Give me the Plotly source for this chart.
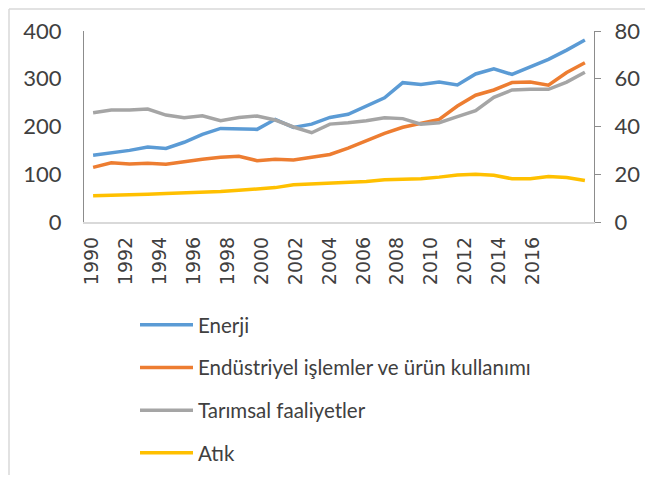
import plotly.graph_objects as go

years = list(range(1990, 2018))
enerji = [140, 144.5, 150, 157, 154, 167, 183.6, 196, 195.5, 194,
          215, 198, 205, 219, 225.5, 243.6, 260, 291.8, 288, 293,
          287, 310, 321, 309, 325, 340.6, 360, 381]
endustriyel = [22.9, 24.8, 24.3, 24.6, 24.2, 25.4, 26.3, 27.1, 27.5, 25.7,
               26.3, 26.0, 27.1, 28.3, 30.9, 34.1, 37.1, 39.7, 41.3, 43.0,
               48.6, 53.1, 55.3, 58.4, 58.6, 57.3, 62.6, 66.7]
tarimsal = [45.8, 46.9, 46.9, 47.3, 44.8, 43.7, 44.5, 42.4, 43.8, 44.4,
            42.7, 39.8, 37.4, 41.0, 41.6, 42.4, 43.7, 43.3, 41.0, 41.6,
            44.1, 46.6, 52.2, 55.3, 55.6, 55.6, 58.6, 62.7]
atik = [11.0, 11.1, 11.3, 11.6, 11.9, 12.1, 12.4, 12.8, 13.3, 13.8,
        14.4, 15.6, 15.9, 16.2, 16.5, 17.0, 17.7, 18.0, 18.1, 18.8,
        19.7, 20.0, 19.6, 18.1, 18.1, 19.1, 18.6, 17.4]
tick_years = years[::2][:14]

names = ["Enerji", "Endüstriyel işlemler ve ürün kullanımı", "Tarımsal faaliyetler", "Atık"]
colors = ["#5B9BD5", "#ED7D31", "#A5A5A5", "#FFC000"]
series = [enerji, endustriyel, tarimsal, atik]
axes = ["y", "y2", "y2", "y2"]

fig = go.Figure()
for n, c, s, a in zip(names, colors, series, axes):
    fig.add_trace(go.Scatter(x=years, y=s, name=n, mode="lines", yaxis=a, xaxis="x",
                             legendgroup=n,
                             line=dict(color=c, width=3.5)))

# invisible carrier trace so the tick-label axis is drawn
fig.add_trace(go.Scatter(x=tick_years, y=[None] * len(tick_years), xaxis="x2", yaxis="y",
                         mode="lines", showlegend=False, hoverinfo="skip"))

# the page body has an 8px margin; the figure is laid out in screen coordinates minus 8
OFF = 8
W, H = 653 - 2 * OFF, 483 - 2 * OFF
L, R, T, B = 84, 594, 31, 222  # plot area in screen pixels

def px(x):
    return (x - L) / (R - L)

def py(y):
    return (B - y) / (B - T)

txt = "#404040"
fig.update_layout(
    width=W, height=H,
    margin=dict(l=L - OFF, r=W - (R - OFF), t=T - OFF, b=H - (B - OFF), autoexpand=False),
    paper_bgcolor="white", plot_bgcolor="white",
    font=dict(family="Lato", color=txt),
    xaxis=dict(range=[1989.5, 2017.5], showticklabels=False, ticks="",
               showgrid=False, zeroline=False, showline=True,
               linecolor="#d9d9d9", linewidth=2),
    xaxis2=dict(overlaying="x", side="bottom", anchor="y", range=[1989.53, 2019.6],
                tickmode="array", tickvals=tick_years, ticktext=[str(v) for v in tick_years],
                tickangle=-90, showgrid=False, zeroline=False, showline=False, ticks="",
                tickfont=dict(family="DejaVu Sans", size=19, color=txt),
                ticklabelstandoff=10),
    yaxis=dict(range=[0, 400], dtick=100, showgrid=False, zeroline=False,
               showline=True, linecolor="#8c8c8c", linewidth=1, ticks="",
               tickfont=dict(family="Lato", size=22, color=txt), ticklabelstandoff=17),
    yaxis2=dict(range=[0, 80], dtick=20, overlaying="y", side="right", showgrid=False,
                zeroline=False, showline=True, linecolor="#8c8c8c", linewidth=1,
                ticks="outside", ticklen=6, tickcolor="#8c8c8c",
                tickfont=dict(family="Lato", size=22, color=txt), ticklabelstandoff=9),
    legend=dict(x=px(135), y=py(305), xanchor="left", yanchor="top",
                orientation="v", tracegroupgap=13, itemwidth=53,
                font=dict(family="Lato", size=20.5, color=txt), bgcolor="rgba(0,0,0,0)"),
    shapes=[
        dict(type="line", xref="paper", yref="paper", x0=px(9), x1=px(9), y0=py(9), y1=py(483),
             line=dict(color="#d9d9d9", width=1.5)),
        dict(type="line", xref="paper", yref="paper", x0=px(9), x1=px(645), y0=py(9), y1=py(9),
             line=dict(color="#d9d9d9", width=1.5)),
    ],
)

fig.write_html("out.html")
